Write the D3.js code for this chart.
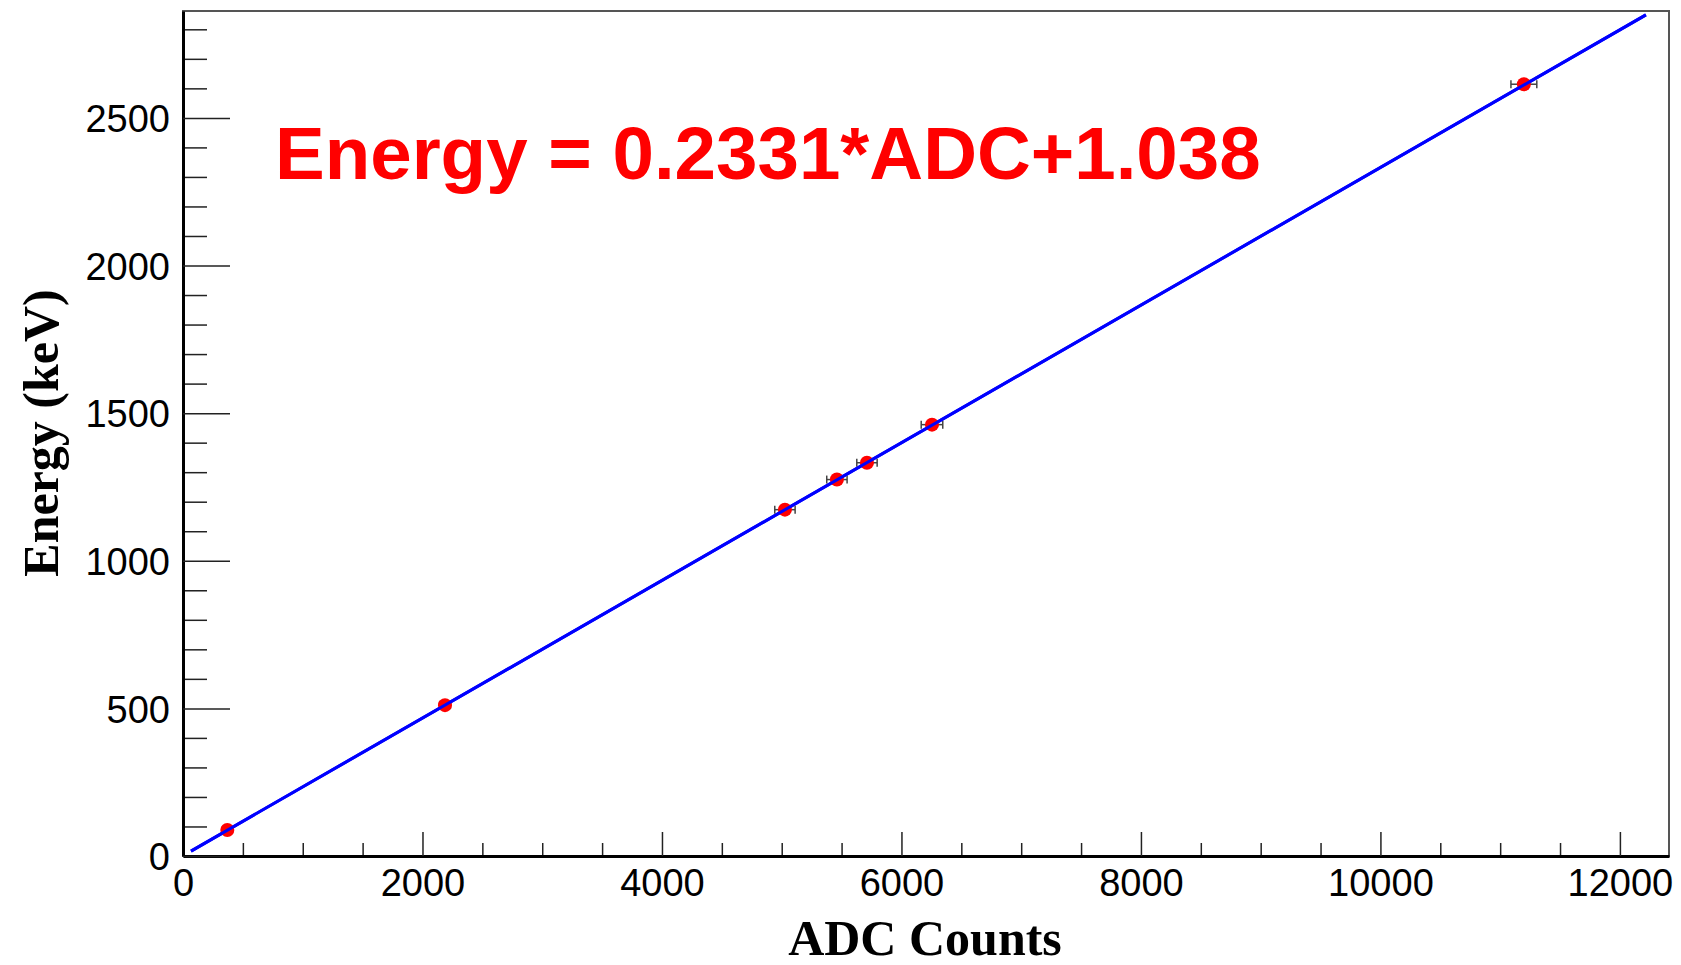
<!DOCTYPE html>
<html>
<head>
<meta charset="utf-8">
<script src="https://cdn.jsdelivr.net/npm/d3@7/dist/d3.min.js"></script>
<style>
  body { margin: 0; background: white; }
  svg { display: block; }
</style>
</head>
<body>
<svg id="chart" width="1681" height="965"></svg>
<script>
// calibration points (ADC peak position, known energy, ADC error)
var adc = [370, 2188, 5027, 5461, 5712, 6255, 11198];
var energy = [88, 511, 1173, 1275, 1332, 1461, 2614];
var adcErr = [40, 45, 85, 85, 85, 90, 108];

// fit result
var slope = 0.2331, offset = 1.038;
var fitRange = [67, 12217];

var xMajor = [0, 2000, 4000, 6000, 8000, 10000, 12000];
var yMajor = [0, 500, 1000, 1500, 2000, 2500];

var svgW = 1681, svgH = 965;
var margin = {left: 183, right: 12, top: 11, bottom: 109};

var svg = d3.select("#chart");
var w = svgW - margin.left - margin.right;
var h = svgH - margin.top - margin.bottom;

var x = d3.scaleLinear().domain([0, 12410]).range([0, w]);
var y = d3.scaleLinear().domain([0, 2862]).range([h, 0]);

var g = svg.append("g")
  .attr("transform", "translate(" + margin.left + "," + margin.top + ")");

// frame
g.append("rect")
  .attr("width", w).attr("height", h)
  .attr("fill", "none").attr("stroke", "#555").attr("stroke-width", 2);

// minor ticks
var xMinor = d3.range(0, 12410, 500).filter(function(d){ return d % 2000 != 0; });
var yMinor = d3.range(0, 2862, 100).filter(function(d){ return d % 500 != 0; });

g.append("g").attr("transform", "translate(0," + h + ")")
  .call(d3.axisBottom(x).tickValues(xMinor).tickSize(-13).tickFormat(""))
  .call(function(s){ s.select(".domain").remove(); });
g.append("g")
  .call(d3.axisLeft(y).tickValues(yMinor).tickSize(-24).tickFormat(""))
  .call(function(s){ s.select(".domain").remove(); });

// major ticks + labels
var fmt = d3.format("d");
var xAxis = g.append("g").attr("transform", "translate(0," + h + ")")
  .call(d3.axisBottom(x).tickValues(xMajor).tickFormat(fmt).tickSize(-24).tickPadding(11).tickSizeOuter(0));
var yAxis = g.append("g")
  .call(d3.axisLeft(y).tickValues(yMajor).tickFormat(fmt).tickSize(-47).tickPadding(13).tickSizeOuter(0));

[xAxis, yAxis].forEach(function(a){
  a.select(".domain").attr("stroke", "#000").attr("stroke-width", 3);
  a.selectAll("text")
    .attr("font-family", "Liberation Sans, Arial, sans-serif")
    .attr("font-size", 38).attr("fill", "#000");
});
yAxis.selectAll("text").attr("dy", "0.36em");
xAxis.selectAll("text").attr("dy", "0.75em");
g.selectAll("g.tick line").attr("stroke", "#222").attr("stroke-width", 1.5);

// fit line
g.append("line")
  .attr("x1", x(fitRange[0])).attr("y1", y(slope * fitRange[0] + offset))
  .attr("x2", x(fitRange[1])).attr("y2", y(slope * fitRange[1] + offset))
  .attr("stroke", "#0000ff").attr("stroke-width", 3);

// data points
var pts = adc.map(function(d, i){ return {adc: d, e: energy[i], err: adcErr[i]}; });

var pg = g.selectAll(".pt").data(pts).enter().append("g").attr("class", "pt");
pg.append("line")
  .attr("x1", function(d){ return x(d.adc - d.err); })
  .attr("x2", function(d){ return x(d.adc + d.err); })
  .attr("y1", function(d){ return y(d.e); })
  .attr("y2", function(d){ return y(d.e); })
  .attr("stroke", "#444").attr("stroke-width", 1.5);
[-1, 1].forEach(function(s){
  pg.append("line")
    .attr("x1", function(d){ return x(d.adc + s * d.err); })
    .attr("x2", function(d){ return x(d.adc + s * d.err); })
    .attr("y1", function(d){ return y(d.e) - 4; })
    .attr("y2", function(d){ return y(d.e) + 4; })
    .attr("stroke", "#444").attr("stroke-width", 1.5);
});
pg.append("circle")
  .attr("cx", function(d){ return x(d.adc); })
  .attr("cy", function(d){ return y(d.e); })
  .attr("r", 7)
  .attr("fill", "#ff0000");
// fit line drawn over markers, as in the original
g.append("line")
  .attr("x1", x(fitRange[0])).attr("y1", y(slope * fitRange[0] + offset))
  .attr("x2", x(fitRange[1])).attr("y2", y(slope * fitRange[1] + offset))
  .attr("stroke", "#0000ff").attr("stroke-width", 3);

// formula
svg.append("text")
  .attr("x", 275).attr("y", 179)
  .attr("font-family", "Liberation Sans, Arial, sans-serif")
  .attr("font-weight", "bold")
  .attr("font-size", 74.5)
  .attr("fill", "#ff0000")
  .text("Energy = " + slope + "*ADC+" + offset);

// axis titles
svg.append("text")
  .attr("x", 925).attr("y", 955)
  .attr("text-anchor", "middle")
  .attr("font-family", "Liberation Serif, Times New Roman, serif")
  .attr("font-weight", "bold")
  .attr("font-size", 50)
  .text("ADC Counts");

svg.append("text")
  .attr("transform", "translate(58,433) rotate(-90)")
  .attr("text-anchor", "middle")
  .attr("font-family", "Liberation Serif, Times New Roman, serif")
  .attr("font-weight", "bold")
  .attr("font-size", 50)
  .text("Energy (keV)");
</script>
</body>
</html>
